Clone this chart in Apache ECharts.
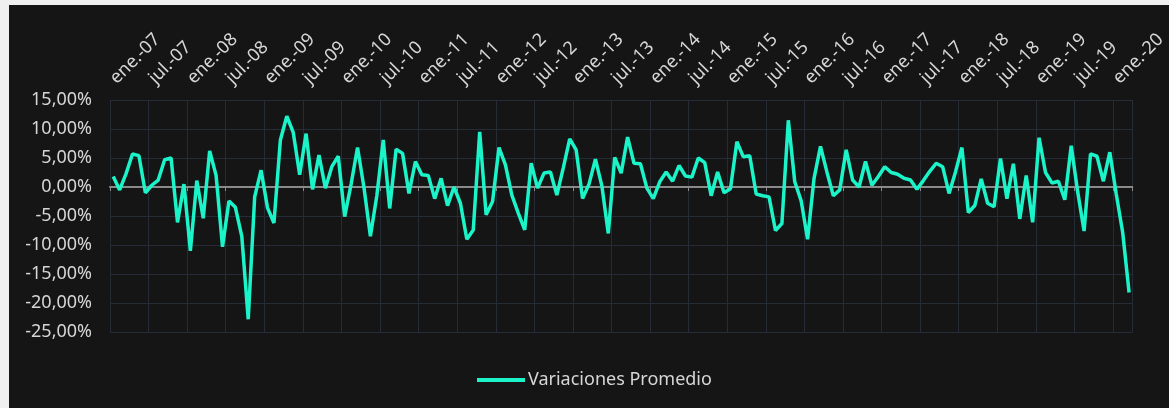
<!DOCTYPE html>
<html>
<head>
<meta charset="utf-8">
<script src="https://cdn.jsdelivr.net/npm/echarts@6/dist/echarts.min.js"></script>
<style>
  html, body { margin: 0; padding: 0; background: #f0f0f0; width: 1169px; height: 408px; overflow: hidden; }
  #chart { position: absolute; left: 9px; top: 5px; width: 1160px; height: 403px; background: #151515; }
</style>
</head>
<body>
<div id="chart"></div>
<script>
// Month abbreviations (Spanish) and years used for the category axis
const monthNames = ['ene.', 'feb.', 'mar.', 'abr.', 'may.', 'jun.', 'jul.', 'ago.', 'sep.', 'oct.', 'nov.', 'dic.'];
const startYear = 2007;
const monthCount = 159; // ene.-07 .. mar.-20

// Monthly average variation (%)
const variaciones = [
  1.8, -0.5, 2.3, 5.7, 5.4, -1.0, 0.3, 1.2, 4.7, 5.0, -6.1, 0.5,
  -11.0, 1.1, -5.4, 6.2, 2.0, -10.3, -2.4, -3.5, -8.5, -22.8, -1.7, 2.9,
  -3.6, -6.2, 8.1, 12.2, 9.4, 2.1, 9.2, -0.4, 5.5, -0.2, 3.5, 5.3,
  -5.1, 0.5, 6.8, -0.1, -8.5, -1.5, 8.1, -3.7, 6.5, 5.8, -1.1, 4.4,
  2.1, 2.0, -2.0, 1.5, -3.2, 0.0, -2.8, -9.0, -7.4, 9.5, -4.8, -2.5,
  6.8, 3.8, -1.4, -4.5, -7.4, 4.1, -0.2, 2.4, 2.6, -1.4, 3.3, 8.3,
  6.4, -2.0, 0.5, 4.8, 0.2, -8.0, 5.1, 2.4, 8.6, 4.1, 4.0, -0.2,
  -2.0, 0.9, 2.6, 1.0, 3.7, 1.9, 1.7, 5.0, 4.2, -1.5, 2.6, -1.0,
  -0.3, 7.8, 5.2, 5.4, -1.2, -1.5, -1.7, -7.5, -6.3, 11.5, 0.9, -2.4,
  -9.0, 1.5, 7.0, 2.6, -1.5, -0.5, 6.4, 1.2, 0.0, 4.4, 0.3, 1.8,
  3.5, 2.5, 2.2, 1.5, 1.2, -0.4, 1.1, 2.7, 4.1, 3.5, -1.1, 2.6,
  6.8, -4.4, -3.2, 1.4, -2.8, -3.4, 4.9, -2.0, 4.0, -5.5, 2.0, -6.1,
  8.5, 2.5, 0.7, 1.0, -2.2, 7.1, -0.8, -7.6, 5.7, 5.3, 1.0, 6.0,
  -1.2, -7.8, -18.2
];

// Y axis ticks
const yMin = -25, yMax = 15, yStep = 5;
const seriesName = 'Variaciones Promedio';

const categories = [];
for (let i = 0; i < monthCount; i++) {
  const m = i % 12;
  const y = startYear + Math.floor(i / 12);
  categories.push(monthNames[m] + '-' + String(y % 100).padStart(2, '0'));
}

const FONT = 'Noto Sans';
const textColor = '#d6d6d6';
const gridColor = '#262c37';

const chart = echarts.init(document.getElementById('chart'), null, { renderer: 'canvas' });
chart.setOption({
  backgroundColor: '#151515',
  animation: false,
  grid: { left: 101, right: 32, top: 95, bottom: 76, containLabel: false },
  legend: {
    left: 463, top: 361,
    icon: 'rect', itemWidth: 48, itemHeight: 4, itemGap: 10,
    textStyle: { color: textColor, fontFamily: FONT, fontSize: 18, padding: [0, 0, 0, -2] },
    data: [seriesName]
  },
  xAxis: [
    {
      type: 'category', data: categories, position: 'top', boundaryGap: true,
      axisLine: { show: false, onZero: false },
      axisTick: { show: false },
      axisLabel: { interval: 5, rotate: -45, margin: 19, color: textColor, fontFamily: FONT, fontSize: 18 },
      splitLine: { show: true, interval: 5, lineStyle: { color: gridColor, width: 1 } }
    },
    {
      type: 'category', data: categories, position: 'bottom', boundaryGap: true,
      axisLine: { show: true, onZero: true, lineStyle: { color: '#8a8a8a', width: 2 } },
      axisTick: { show: true, interval: 5, length: 4, lineStyle: { color: '#8a8a8a', width: 1 } },
      axisLabel: { show: false },
      splitLine: { show: false }
    }
  ],
  yAxis: {
    type: 'value', min: yMin, max: yMax, interval: yStep,
    axisLine: { show: false }, axisTick: { show: false },
    axisLabel: {
      margin: 18, color: textColor, fontFamily: FONT, fontSize: 18,
      formatter: v => v.toFixed(2).replace('.', ',') + '%'
    },
    splitLine: { show: true, lineStyle: { color: gridColor, width: 1 } }
  },
  series: [{
    name: seriesName, type: 'line', xAxisIndex: 0, data: variaciones,
    showSymbol: false, symbol: 'none', smooth: false,
    lineStyle: { color: '#1af4c8', width: 3.5 },
    itemStyle: { color: '#1af4c8' }
  }]
});
</script>
</body>
</html>
